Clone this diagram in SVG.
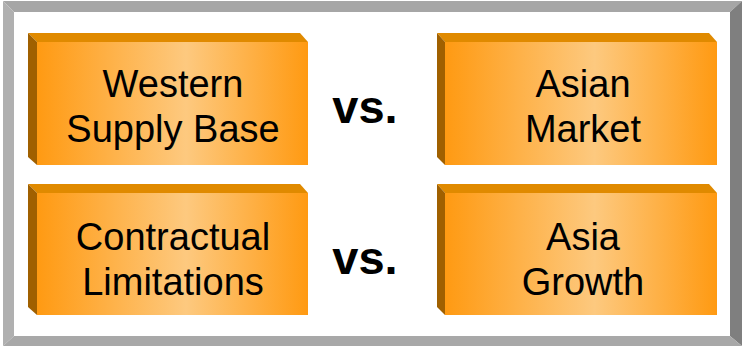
<svg xmlns="http://www.w3.org/2000/svg" width="744" height="347" viewBox="0 0 744 347">
<defs>
<linearGradient id="face" x1="0" y1="0" x2="1" y2="0">
<stop offset="0" stop-color="#ff9a12"/>
<stop offset="0.55" stop-color="#fdc97f"/>
<stop offset="1" stop-color="#ff9a12"/>
</linearGradient>
<style>
.top{fill:#e08a00}
.side{fill:#a06000}
.face{fill:url(#face)}
.lbl{font-family:"Liberation Sans",Arial,sans-serif;font-size:38px;fill:#000;text-anchor:middle}
.vs{font-family:"Liberation Sans",Arial,sans-serif;font-size:47px;font-weight:bold;fill:#000;text-anchor:middle}
</style>
</defs>
<rect width="744" height="347" fill="#fff"/>
<g id="frame">
<polygon points="3,1 742,1 730,12 14,12" fill="#a6a6a6"/>
<polygon points="3,1 14,12 14,336 3,346" fill="#b0b0b0"/>
<polygon points="742,1 742,346 730,336 730,12" fill="#7f7f7f"/>
<polygon points="3,346 14,336 730,336 742,346" fill="#a8a8a8"/>
</g>
<g id="western">
<polygon class="top" points="28,33 300,33 308,42 37,42"/>
<polygon class="side" points="28,33 37,42 37,165 28,157"/>
<rect class="face" x="37" y="42" width="271" height="123"/>
<text class="lbl" x="173" y="97">Western</text>
<text class="lbl" x="173" y="142">Supply Base</text>
</g>
<g id="asian">
<polygon class="top" points="437,33 709,33 717,42 445,42"/>
<polygon class="side" points="437,33 445,42 445,165 437,157"/>
<rect class="face" x="445" y="42" width="272" height="123"/>
<text class="lbl" x="583" y="97">Asian</text>
<text class="lbl" x="583" y="142">Market</text>
</g>
<g id="contractual">
<polygon class="top" points="28,184 300,184 308,193 37,193"/>
<polygon class="side" points="28,184 37,193 37,315 28,307"/>
<rect class="face" x="37" y="193" width="271" height="122"/>
<text class="lbl" x="173" y="250">Contractual</text>
<text class="lbl" x="173" y="295">Limitations</text>
</g>
<g id="asia">
<polygon class="top" points="437,184 709,184 717,193 445,193"/>
<polygon class="side" points="437,184 445,193 445,315 437,307"/>
<rect class="face" x="445" y="193" width="272" height="122"/>
<text class="lbl" x="583" y="250">Asia</text>
<text class="lbl" x="583" y="295">Growth</text>
</g>
<g id="vs1"><text class="vs" x="365" y="123">vs.</text></g>
<g id="vs2"><text class="vs" x="365" y="274">vs.</text></g>
<g id="connectors"></g>
</svg>
